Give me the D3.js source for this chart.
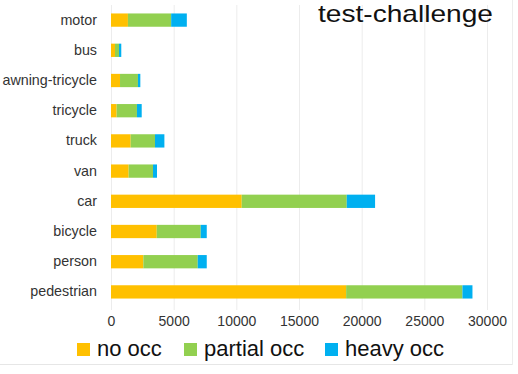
<!DOCTYPE html>
<html>
<head>
<meta charset="utf-8">
<script src="https://cdn.jsdelivr.net/npm/d3@7/dist/d3.min.js"></script>
<style>
  body { margin: 0; background: #fff; }
  svg { display: block; font-family: "Liberation Sans", Arial, sans-serif; }
</style>
</head>
<body>
<div id="chart"></div>
<script>
// categories top to bottom
var categories = ["motor", "bus", "awning-tricycle", "tricycle", "truck", "van", "car", "bicycle", "person", "pedestrian"];
var noOcc      = [1350, 320, 720, 450, 1570, 1410, 10430, 3650, 2580, 18760];
var partialOcc = [3450, 320, 1430, 1620, 1940, 1940, 8380, 3510, 4340, 9280];
var heavyOcc   = [1250, 180, 190, 380, 750, 320, 2260, 480, 720, 800];
var seriesNames = ["no occ", "partial occ", "heavy occ"];
var xTicks = [0, 5000, 10000, 15000, 20000, 25000, 30000];

var colors = ["#FFC000", "#92D050", "#00B0F0"];

var W = 518, H = 374;
var svg = d3.select("#chart").append("svg").attr("width", W).attr("height", H);

var x = d3.scaleLinear().domain([0, 30000]).range([111, 487]);
var y = d3.scaleBand().domain(categories).range([5, 307]).paddingInner(0.56).paddingOuter(0.28);

// frame edges
svg.append("line").attr("x1", 0).attr("x2", 512).attr("y1", 364.5).attr("y2", 364.5)
  .attr("stroke", "#e6e6e6");
svg.append("line").attr("x1", 512.5).attr("x2", 512.5).attr("y1", 0).attr("y2", 365)
  .attr("stroke", "#ededed");

// gridlines
svg.append("g").selectAll("line").data(xTicks).enter().append("line")
  .attr("x1", function(d) { return x(d) + 0.5; })
  .attr("x2", function(d) { return x(d) + 0.5; })
  .attr("y1", 5).attr("y2", 310)
  .attr("stroke", "#ececec").attr("stroke-width", 1);

// stack data
var rows = categories.map(function(c, i) {
  return { cat: c, "no occ": noOcc[i], "partial occ": partialOcc[i], "heavy occ": heavyOcc[i] };
});
var stacked = d3.stack().keys(seriesNames)(rows);

svg.append("g").selectAll("g").data(stacked).enter().append("g")
  .attr("fill", function(d, i) { return colors[i]; })
  .selectAll("rect").data(function(d) { return d; }).enter().append("rect")
  .attr("x", function(d) { return x(d[0]); })
  .attr("width", function(d) { return x(d[1]) - x(d[0]); })
  .attr("y", function(d) { return y(d.data.cat); })
  .attr("height", y.bandwidth());

// category axis
var yAxis = svg.append("g").attr("transform", "translate(111,0)")
  .call(d3.axisLeft(y).tickSize(0).tickPadding(14));
yAxis.select(".domain").remove();
yAxis.selectAll("text").attr("fill", "#333").style("font-size", "14.3px");

// value axis
var xAxis = svg.append("g").attr("transform", "translate(0,316)")
  .call(d3.axisBottom(x).tickValues(xTicks).tickSize(0).tickPadding(0).tickFormat(d3.format("d")));
xAxis.select(".domain").remove();
xAxis.selectAll("text").attr("fill", "#333").style("font-size", "14px");

// title
svg.append("text").attr("x", 318).attr("y", 22).attr("fill", "#111")
  .attr("textLength", 175).attr("lengthAdjust", "spacingAndGlyphs")
  .style("font-size", "24px").text("test-challenge");

// legend
var legendX = [77, 184, 325];
var legend = svg.append("g").selectAll("g").data(seriesNames).enter().append("g")
  .attr("transform", function(d, i) { return "translate(" + legendX[i] + ",343)"; });
legend.append("rect").attr("width", 13).attr("height", 13)
  .attr("fill", function(d, i) { return colors[i]; });
legend.append("text").attr("x", 20).attr("y", 13).attr("fill", "#111")
  .style("font-size", "22px").text(function(d) { return d; });
</script>
</body>
</html>
